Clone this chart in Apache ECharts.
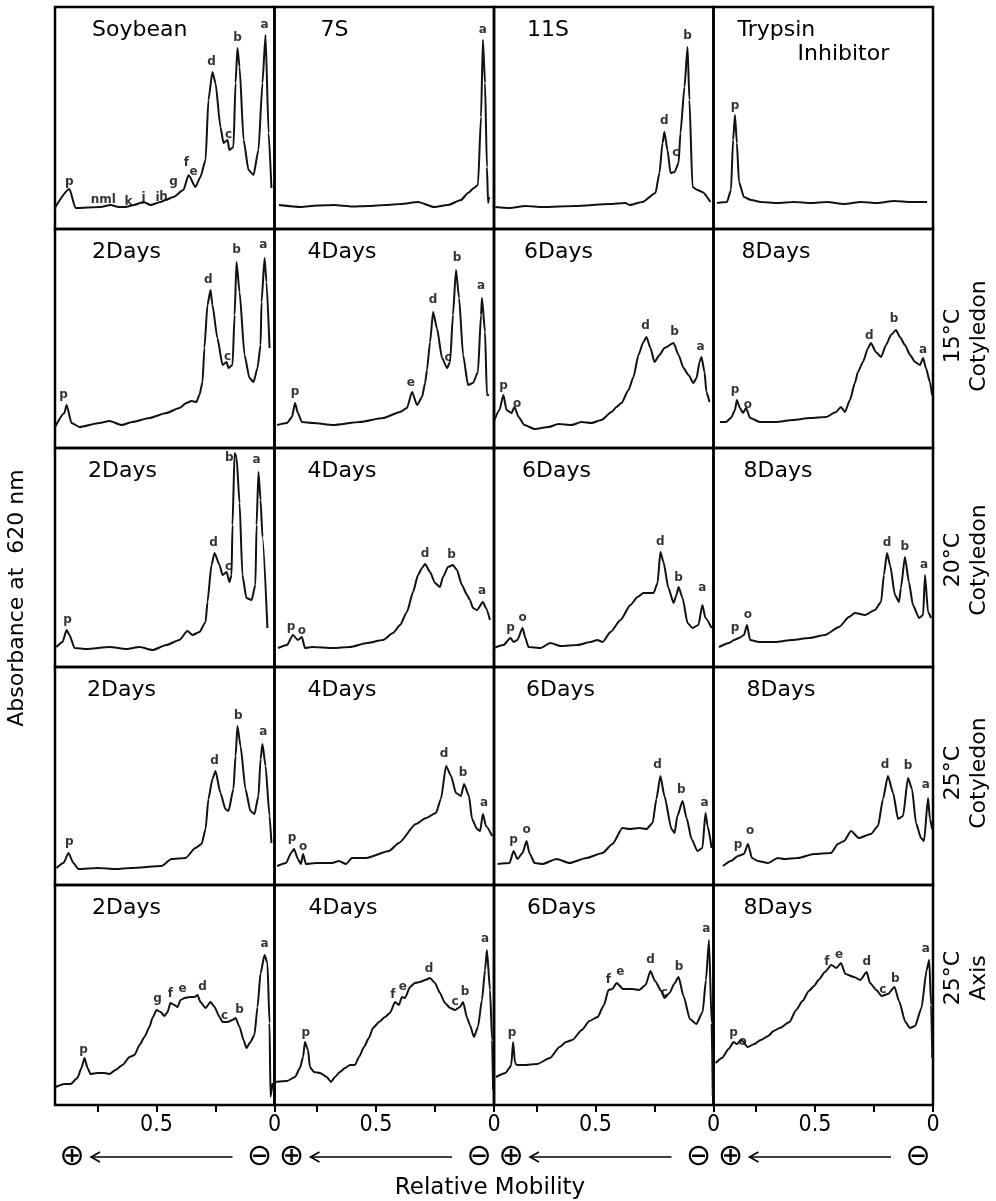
<!DOCTYPE html>
<html>
<head>
<meta charset="utf-8">
<title>Densitometric patterns</title>
<script src="https://cdn.jsdelivr.net/npm/echarts@6/dist/echarts.min.js"></script>
<style>
html, body { margin: 0; background: #fff; }
#chart { width: 996px; height: 1201px; }
</style>
</head>
<body>
<div id="chart"></div>
<script>
// traces: [relative mobility, absorbance (arbitrary units)]
const soybean = [[0.936,0.19],[0.869,0.40],[0.843,0.21],[0.737,0.22],[0.695,0.24],[0.66,0.22],[0.631,0.22],[0.597,0.24],[0.555,0.27],[0.525,0.24],[0.483,0.27],[0.462,0.29],[0.428,0.32],[0.386,0.39],[0.364,0.54],[0.335,0.42],[0.314,0.52],[0.292,0.69],[0.280,1.29],[0.263,1.57],[0.250,1.46],[0.229,1.02],[0.216,0.86],[0.199,0.89],[0.191,0.79],[0.174,0.82],[0.165,1.46],[0.157,1.81],[0.148,1.62],[0.131,0.89],[0.110,0.59],[0.089,0.54],[0.068,0.79],[0.051,1.46],[0.038,1.94],[0.025,0.96],[0.013,0.41]];
const globulin7S = [[0.911,0.24],[0.818,0.22],[0.75,0.235],[0.678,0.24],[0.60,0.225],[0.534,0.23],[0.46,0.24],[0.394,0.25],[0.322,0.27],[0.254,0.22],[0.195,0.24],[0.14,0.29],[0.11,0.36],[0.085,0.41],[0.068,0.44],[0.055,1.12],[0.047,1.89],[0.038,1.46],[0.030,0.62],[0.025,0.26],[0.021,0.32]];
const globulin11S = [[0.924,0.22],[0.864,0.21],[0.797,0.23],[0.725,0.22],[0.585,0.23],[0.441,0.25],[0.373,0.26],[0.356,0.24],[0.301,0.27],[0.246,0.36],[0.229,0.56],[0.216,0.86],[0.208,0.97],[0.195,0.79],[0.182,0.56],[0.165,0.57],[0.148,0.66],[0.140,0.96],[0.123,1.42],[0.110,1.82],[0.102,1.29],[0.089,0.42],[0.068,0.39],[0.047,0.37],[0.013,0.27]];
const trypsinInhibitor = [[0.915,0.26],[0.873,0.27],[0.856,0.39],[0.847,0.89],[0.839,1.14],[0.831,0.86],[0.822,0.47],[0.801,0.32],[0.771,0.29],[0.729,0.27],[0.661,0.26],[0.589,0.27],[0.517,0.26],[0.449,0.27],[0.377,0.25],[0.305,0.27],[0.237,0.26],[0.165,0.28],[0.093,0.27],[0.025,0.27]];

const cot15d2 = [[0.932,0.20],[0.890,0.35],[0.881,0.43],[0.860,0.25],[0.826,0.21],[0.742,0.25],[0.699,0.27],[0.648,0.23],[0.602,0.26],[0.530,0.30],[0.458,0.35],[0.403,0.40],[0.373,0.45],[0.352,0.47],[0.331,0.46],[0.318,0.53],[0.305,0.66],[0.297,1.00],[0.284,1.43],[0.271,1.58],[0.263,1.43],[0.242,1.10],[0.220,0.83],[0.203,0.86],[0.195,0.80],[0.178,0.83],[0.169,1.33],[0.161,1.86],[0.148,1.56],[0.127,0.93],[0.106,0.70],[0.089,0.66],[0.072,0.80],[0.059,1.03],[0.055,1.46],[0.042,1.90],[0.034,1.66],[0.021,1.00]];
const cot15d4 = [[0.919,0.23],[0.877,0.25],[0.856,0.31],[0.843,0.45],[0.831,0.35],[0.814,0.26],[0.767,0.25],[0.682,0.23],[0.568,0.26],[0.470,0.30],[0.398,0.36],[0.369,0.40],[0.347,0.56],[0.326,0.43],[0.305,0.51],[0.292,0.65],[0.284,0.78],[0.271,1.06],[0.258,1.36],[0.242,1.20],[0.220,0.90],[0.199,0.80],[0.186,0.86],[0.174,1.33],[0.161,1.78],[0.148,1.50],[0.131,0.93],[0.110,0.63],[0.089,0.65],[0.068,0.76],[0.055,1.33],[0.051,1.50],[0.038,1.16],[0.030,0.53],[0.021,0.53]];
const cot15d6 = [[0.928,0.28],[0.907,0.38],[0.890,0.53],[0.877,0.38],[0.856,0.35],[0.843,0.41],[0.826,0.31],[0.801,0.23],[0.758,0.19],[0.699,0.21],[0.657,0.24],[0.602,0.23],[0.559,0.26],[0.517,0.25],[0.475,0.28],[0.432,0.36],[0.411,0.41],[0.390,0.45],[0.360,0.58],[0.339,0.71],[0.318,0.93],[0.297,1.06],[0.284,1.11],[0.267,1.00],[0.250,0.86],[0.229,0.93],[0.208,1.00],[0.169,1.05],[0.148,0.93],[0.127,0.80],[0.106,0.73],[0.085,0.65],[0.072,0.70],[0.059,0.86],[0.051,0.91],[0.038,0.76],[0.030,0.56],[0.017,0.46]];
const cot15d8 = [[0.903,0.26],[0.877,0.26],[0.856,0.30],[0.839,0.38],[0.831,0.48],[0.818,0.40],[0.805,0.35],[0.792,0.40],[0.775,0.30],[0.733,0.26],[0.665,0.26],[0.593,0.28],[0.521,0.30],[0.453,0.31],[0.411,0.36],[0.390,0.41],[0.373,0.36],[0.352,0.48],[0.331,0.65],[0.318,0.76],[0.297,0.86],[0.275,1.00],[0.263,1.05],[0.242,0.96],[0.220,0.91],[0.199,1.03],[0.178,1.13],[0.157,1.18],[0.140,1.11],[0.119,1.03],[0.097,0.93],[0.076,0.86],[0.055,0.83],[0.042,0.90],[0.030,0.80],[0.013,0.66],[0.004,0.53]];

const cot20d2 = [[0.924,0.20],[0.898,0.25],[0.881,0.37],[0.869,0.32],[0.847,0.19],[0.797,0.18],[0.699,0.20],[0.627,0.18],[0.572,0.20],[0.517,0.17],[0.458,0.22],[0.403,0.27],[0.369,0.36],[0.347,0.32],[0.318,0.35],[0.292,0.45],[0.284,0.65],[0.267,1.02],[0.254,1.14],[0.233,1.02],[0.220,0.92],[0.203,0.95],[0.191,0.85],[0.182,0.92],[0.178,1.42],[0.169,2.14],[0.161,2.10],[0.148,1.64],[0.136,0.92],[0.119,0.69],[0.097,0.67],[0.081,0.82],[0.076,1.42],[0.068,1.95],[0.059,1.67],[0.051,1.30],[0.030,0.39]];
const cot20d4 = [[0.915,0.19],[0.877,0.22],[0.852,0.32],[0.831,0.27],[0.814,0.30],[0.801,0.19],[0.771,0.20],[0.682,0.19],[0.610,0.20],[0.538,0.24],[0.470,0.27],[0.428,0.34],[0.398,0.42],[0.369,0.55],[0.343,0.75],[0.322,0.92],[0.305,0.99],[0.292,1.03],[0.271,0.95],[0.250,0.84],[0.229,0.80],[0.216,0.90],[0.195,1.00],[0.174,1.02],[0.157,0.97],[0.136,0.82],[0.114,0.72],[0.102,0.67],[0.089,0.59],[0.072,0.57],[0.047,0.65],[0.034,0.59],[0.017,0.47]];
const cot20d6 = [[0.932,0.19],[0.890,0.22],[0.860,0.29],[0.847,0.25],[0.831,0.27],[0.809,0.39],[0.797,0.29],[0.784,0.20],[0.733,0.19],[0.691,0.24],[0.648,0.21],[0.576,0.22],[0.521,0.25],[0.492,0.27],[0.470,0.25],[0.436,0.35],[0.394,0.47],[0.352,0.62],[0.322,0.70],[0.297,0.74],[0.254,0.74],[0.237,0.84],[0.225,1.15],[0.212,1.05],[0.191,0.79],[0.169,0.64],[0.157,0.72],[0.148,0.80],[0.131,0.69],[0.110,0.44],[0.089,0.39],[0.064,0.42],[0.047,0.62],[0.034,0.49],[0.008,0.39]];
const cot20d8 = [[0.907,0.20],[0.864,0.24],[0.843,0.27],[0.822,0.29],[0.801,0.32],[0.788,0.42],[0.775,0.27],[0.737,0.25],[0.669,0.25],[0.597,0.27],[0.525,0.29],[0.458,0.32],[0.398,0.40],[0.356,0.50],[0.331,0.54],[0.288,0.52],[0.246,0.57],[0.220,0.65],[0.208,0.92],[0.195,1.14],[0.182,1.02],[0.161,0.72],[0.144,0.65],[0.136,0.79],[0.119,1.10],[0.102,0.85],[0.085,0.62],[0.059,0.49],[0.042,0.52],[0.034,0.92],[0.021,0.55],[0.008,0.49]];

const cot25d2 = [[0.924,0.17],[0.894,0.22],[0.873,0.32],[0.852,0.22],[0.831,0.16],[0.746,0.17],[0.674,0.16],[0.606,0.17],[0.479,0.19],[0.436,0.26],[0.377,0.27],[0.335,0.37],[0.309,0.41],[0.292,0.56],[0.280,0.86],[0.263,1.06],[0.250,1.14],[0.229,0.92],[0.208,0.76],[0.195,0.74],[0.174,0.96],[0.165,1.29],[0.157,1.59],[0.144,1.39],[0.123,0.96],[0.102,0.74],[0.085,0.71],[0.068,0.89],[0.059,1.26],[0.051,1.41],[0.038,1.19],[0.021,0.69],[0.013,0.42]];
const cot25d4 = [[0.919,0.19],[0.881,0.22],[0.860,0.32],[0.847,0.36],[0.831,0.26],[0.818,0.21],[0.809,0.31],[0.797,0.21],[0.754,0.22],[0.686,0.22],[0.657,0.24],[0.627,0.21],[0.602,0.27],[0.542,0.27],[0.445,0.34],[0.403,0.42],[0.331,0.61],[0.288,0.67],[0.246,0.72],[0.225,0.86],[0.203,1.19],[0.182,1.09],[0.161,0.92],[0.140,0.89],[0.127,1.01],[0.106,0.89],[0.093,0.66],[0.072,0.56],[0.059,0.54],[0.047,0.71],[0.034,0.59],[0.008,0.49]];
const cot25d6 = [[0.915,0.21],[0.864,0.22],[0.847,0.34],[0.831,0.26],[0.809,0.32],[0.792,0.44],[0.780,0.32],[0.758,0.22],[0.725,0.21],[0.665,0.26],[0.610,0.22],[0.538,0.27],[0.470,0.32],[0.428,0.41],[0.386,0.57],[0.356,0.56],[0.314,0.57],[0.284,0.56],[0.258,0.62],[0.242,0.86],[0.225,1.09],[0.208,0.89],[0.178,0.56],[0.165,0.52],[0.153,0.69],[0.131,0.84],[0.114,0.67],[0.093,0.46],[0.068,0.34],[0.047,0.37],[0.034,0.72],[0.025,0.59],[0.008,0.37]];
const cot25d8 = [[0.890,0.19],[0.856,0.24],[0.826,0.29],[0.801,0.31],[0.784,0.41],[0.767,0.27],[0.742,0.24],[0.699,0.22],[0.657,0.27],[0.631,0.26],[0.572,0.27],[0.504,0.31],[0.432,0.32],[0.403,0.41],[0.377,0.44],[0.347,0.54],[0.314,0.47],[0.263,0.51],[0.233,0.59],[0.212,0.86],[0.191,1.09],[0.169,0.92],[0.148,0.66],[0.127,0.69],[0.106,1.07],[0.089,0.96],[0.072,0.62],[0.051,0.47],[0.038,0.44],[0.021,0.87],[0.013,0.66],[0.004,0.56]];

const axis25d2 = [[0.928,0.18],[0.890,0.21],[0.864,0.21],[0.835,0.27],[0.818,0.37],[0.805,0.47],[0.792,0.37],[0.780,0.31],[0.750,0.32],[0.720,0.32],[0.699,0.31],[0.674,0.35],[0.644,0.40],[0.614,0.48],[0.593,0.50],[0.572,0.60],[0.551,0.68],[0.530,0.78],[0.517,0.87],[0.500,0.95],[0.483,0.93],[0.466,0.89],[0.453,0.93],[0.441,1.02],[0.424,1.00],[0.411,0.98],[0.398,1.05],[0.381,1.07],[0.360,1.08],[0.339,1.08],[0.326,1.10],[0.314,1.03],[0.292,0.97],[0.271,1.03],[0.254,0.98],[0.233,0.88],[0.220,0.83],[0.199,0.83],[0.178,0.85],[0.165,0.87],[0.148,0.78],[0.131,0.65],[0.119,0.57],[0.102,0.63],[0.085,0.70],[0.072,0.98],[0.059,1.32],[0.042,1.50],[0.030,1.42],[0.021,0.82],[0.017,0.08],[0.008,0.22]];
const axis25d4 = [[0.928,0.23],[0.877,0.24],[0.843,0.28],[0.822,0.37],[0.809,0.48],[0.801,0.63],[0.788,0.55],[0.780,0.38],[0.763,0.33],[0.737,0.32],[0.708,0.28],[0.691,0.23],[0.674,0.28],[0.653,0.33],[0.631,0.37],[0.610,0.40],[0.589,0.40],[0.572,0.48],[0.551,0.58],[0.530,0.67],[0.513,0.77],[0.487,0.83],[0.462,0.88],[0.441,0.92],[0.419,1.03],[0.403,1.00],[0.390,1.08],[0.377,1.07],[0.356,1.18],[0.335,1.22],[0.314,1.23],[0.292,1.25],[0.271,1.27],[0.250,1.22],[0.229,1.12],[0.208,1.02],[0.186,0.97],[0.165,0.95],[0.144,0.98],[0.131,1.03],[0.114,0.87],[0.102,0.80],[0.085,0.68],[0.068,0.78],[0.051,1.05],[0.038,1.35],[0.030,1.55],[0.017,1.15],[0.008,0.65],[0.004,0.15]];
const axis25d6 = [[0.922,0.28],[0.881,0.32],[0.865,0.37],[0.857,0.40],[0.849,0.63],[0.841,0.42],[0.833,0.40],[0.801,0.40],[0.747,0.41],[0.693,0.47],[0.652,0.58],[0.625,0.63],[0.598,0.65],[0.558,0.75],[0.526,0.84],[0.491,0.88],[0.464,1.00],[0.445,1.15],[0.429,1.16],[0.410,1.22],[0.383,1.16],[0.342,1.16],[0.315,1.15],[0.288,1.20],[0.267,1.34],[0.248,1.24],[0.221,1.14],[0.208,1.07],[0.186,1.12],[0.167,1.21],[0.148,1.28],[0.127,1.09],[0.100,0.86],[0.073,0.81],[0.046,0.93],[0.032,1.25],[0.019,1.65],[0.008,0.82],[0.003,0.09]];
const axis25d8 = [[0.921,0.42],[0.894,0.47],[0.866,0.56],[0.845,0.63],[0.831,0.61],[0.812,0.65],[0.785,0.58],[0.757,0.61],[0.730,0.65],[0.698,0.69],[0.676,0.74],[0.649,0.77],[0.608,0.83],[0.580,0.95],[0.553,1.04],[0.526,1.14],[0.504,1.19],[0.485,1.25],[0.458,1.33],[0.431,1.40],[0.409,1.37],[0.390,1.42],[0.371,1.31],[0.335,1.28],[0.308,1.25],[0.281,1.33],[0.267,1.22],[0.240,1.15],[0.218,1.09],[0.191,1.11],[0.163,1.18],[0.144,1.04],[0.117,0.83],[0.098,0.77],[0.076,0.79],[0.049,0.97],[0.027,1.35],[0.016,1.45],[0.008,1.00],[0.003,0.47]];

// band letters: [mobility, absorbance, band]
const soybeanPeaks = [[0.869,0.47,'p'],[0.725,0.29,'nml'],[0.619,0.27,'k'],[0.555,0.31,'j'],[0.496,0.31,'i'],[0.470,0.32,'h'],[0.428,0.47,'g'],[0.373,0.66,'f'],[0.343,0.57,'e'],[0.267,1.67,'d'],[0.195,0.94,'c'],[0.157,1.91,'b'],[0.042,2.04,'a']];
const globulin7SPeaks = [[0.047,1.99,'a']];
const globulin11SPeaks = [[0.208,1.08,'d'],[0.160,0.76,'c'],[0.110,1.93,'b']];
const trypsinPeaks = [[0.839,1.23,'p']];
const cot15d2Peaks = [[0.894,0.53,'p'],[0.280,1.68,'d'],[0.199,0.91,'c'],[0.161,1.98,'b'],[0.047,2.03,'a']];
const cot15d4Peaks = [[0.843,0.56,'p'],[0.352,0.65,'e'],[0.258,1.48,'d'],[0.195,0.90,'c'],[0.157,1.90,'b'],[0.055,1.62,'a']];
const cot15d6Peaks = [[0.890,0.62,'p'],[0.832,0.44,'o'],[0.288,1.22,'d'],[0.165,1.16,'b'],[0.055,1.01,'a']];
const cot15d8Peaks = [[0.839,0.58,'p'],[0.784,0.43,'o'],[0.270,1.12,'d'],[0.165,1.29,'b'],[0.042,0.98,'a']];
const cot20d2Peaks = [[0.877,0.47,'p'],[0.258,1.24,'d'],[0.195,1.00,'c'],[0.191,2.09,'b'],[0.076,2.07,'a']];
const cot20d4Peaks = [[0.860,0.40,'p'],[0.814,0.36,'o'],[0.292,1.13,'d'],[0.180,1.12,'b'],[0.051,0.76,'a']];
const cot20d6Peaks = [[0.860,0.39,'p'],[0.809,0.49,'o'],[0.225,1.25,'d'],[0.148,0.89,'b'],[0.047,0.79,'a']];
const cot20d8Peaks = [[0.839,0.39,'p'],[0.784,0.52,'o'],[0.195,1.24,'d'],[0.119,1.20,'b'],[0.038,1.02,'a']];
const cot25d2Peaks = [[0.869,0.43,'p'],[0.254,1.24,'d'],[0.153,1.69,'b'],[0.047,1.53,'a']];
const cot25d4Peaks = [[0.856,0.47,'p'],[0.809,0.38,'o'],[0.212,1.31,'d'],[0.131,1.12,'b'],[0.042,0.82,'a']];
const cot25d6Peaks = [[0.847,0.45,'p'],[0.792,0.55,'o'],[0.237,1.20,'d'],[0.136,0.95,'b'],[0.038,0.82,'a']];
const cot25d8Peaks = [[0.826,0.40,'p'],[0.775,0.54,'o'],[0.203,1.20,'d'],[0.106,1.19,'b'],[0.030,1.00,'a']];
const axis25d2Peaks = [[0.809,0.55,'p'],[0.496,1.06,'g'],[0.441,1.11,'f'],[0.390,1.16,'e'],[0.305,1.18,'d'],[0.212,0.89,'c'],[0.148,0.95,'b'],[0.042,1.61,'a']];
const axis25d4Peaks = [[0.797,0.72,'p'],[0.428,1.10,'f'],[0.386,1.18,'e'],[0.275,1.36,'d'],[0.165,1.03,'c'],[0.123,1.13,'b'],[0.038,1.66,'a']];
const axis25d6Peaks = [[0.854,0.72,'p'],[0.445,1.25,'f'],[0.395,1.33,'e'],[0.267,1.45,'d'],[0.208,1.12,'c'],[0.146,1.38,'b'],[0.030,1.76,'a']];
const axis25d8Peaks = [[0.845,0.72,'p'],[0.807,0.63,'o'],[0.45,1.43,'f'],[0.398,1.50,'e'],[0.281,1.43,'d'],[0.213,1.15,'c'],[0.160,1.26,'b'],[0.030,1.56,'a']];

const panelTraces = [
    [soybean, globulin7S, globulin11S, trypsinInhibitor],
    [cot15d2, cot15d4, cot15d6, cot15d8],
    [cot20d2, cot20d4, cot20d6, cot20d8],
    [cot25d2, cot25d4, cot25d6, cot25d8],
    [axis25d2, axis25d4, axis25d6, axis25d8]
];
const panelPeaks = [
    [soybeanPeaks, globulin7SPeaks, globulin11SPeaks, trypsinPeaks],
    [cot15d2Peaks, cot15d4Peaks, cot15d6Peaks, cot15d8Peaks],
    [cot20d2Peaks, cot20d4Peaks, cot20d6Peaks, cot20d8Peaks],
    [cot25d2Peaks, cot25d4Peaks, cot25d6Peaks, cot25d8Peaks],
    [axis25d2Peaks, axis25d4Peaks, axis25d6Peaks, axis25d8Peaks]
];
const panelTitles = [
    ['Soybean', '7S', '11S', 'Trypsin\nInhibitor'],
    ['2Days', '4Days', '6Days', '8Days'],
    ['2Days', '4Days', '6Days', '8Days'],
    ['2Days', '4Days', '6Days', '8Days'],
    ['2Days', '4Days', '6Days', '8Days']
];
const rowNames = [null, '15°C\nCotyledon', '20°C\nCotyledon', '25°C\nCotyledon', '25°C\nAxis'];
const tickValues = [0, 0.25, 0.5, 0.75];
const tickLabels = [0, 0.5];

// layout
const colLeft = [55, 274.5, 494, 713.5];
const colWidth = 219.5;
const rowTop = [7, 229, 448, 667, 885, 1105];
const xMax = 0.93;
const FONT = '"DejaVu Sans", sans-serif';
const titleDx = [[37, 46, 33, 24], [37, 33, 30, 28], [33, 33, 28, 30], [32, 33, 32, 33], [37, 34, 33, 30]];
const rowLabelY = [0, 336, 560, 773, 978];

let grids = [], xAxes = [], yAxes = [], series = [], graphics = [];

panelTraces.forEach((row, r) => {
    let h = rowTop[r + 1] - rowTop[r];
    let last = r === panelTraces.length - 1;
    row.forEach((trace, c) => {
        let idx = grids.length;
        grids.push({
            left: colLeft[c], top: rowTop[r], width: colWidth, height: h,
            show: true, borderColor: '#000', borderWidth: 2.5,
            containLabel: false, outerBoundsMode: 'none'
        });
        xAxes.push({
            gridIndex: idx, type: 'value', inverse: true, min: 0, max: xMax, interval: 0.25,
            splitLine: {show: false},
            axisLine: {show: false},
            axisTick: {show: last, customValues: tickValues, length: 7, lineStyle: {color: '#000', width: 2}},
            axisLabel: {
                show: last, customValues: tickLabels, margin: 9, fontSize: 23, color: '#000',
                fontFamily: '"DejaVu Sans Condensed", "DejaVu Sans", sans-serif',
                formatter: v => Math.abs(v) < 1e-6 ? '0' : (Math.abs(v - 0.5) < 1e-6 ? '0.5' : '')
            }
        });
        yAxes.push({gridIndex: idx, type: 'value', min: 0, max: h / 100, show: false});
        series.push({
            type: 'line', xAxisIndex: idx, yAxisIndex: idx, data: trace,
            showSymbol: false, symbol: 'none', smooth: 0.2, smoothMonotone: 'x',
            lineStyle: {color: '#111', width: 2}, silent: true
        });
        series.push({
            type: 'scatter', xAxisIndex: idx, yAxisIndex: idx,
            data: panelPeaks[r][c].map(p => ({value: [p[0], p[1]], name: p[2]})),
            symbolSize: 1, itemStyle: {color: 'rgba(0,0,0,0)'}, silent: true,
            label: {show: true, position: 'inside', formatter: p => p.name,
                fontSize: 12, fontWeight: 'bold', color: '#000', fontFamily: FONT}
        });

        // panel title
        panelTitles[r][c].split('\n').forEach((t, k) => {
            graphics.push({
                type: 'text', silent: true,
                x: colLeft[c] + titleDx[r][c] + k * 60, y: rowTop[r] + 12 + k * 24,
                style: {text: t, font: '22px ' + FONT, fill: '#000', align: 'left', verticalAlign: 'top'}
            });
        });
    });
    if (rowNames[r]) {
        graphics.push({
            type: 'text', silent: true, x: 966, y: rowLabelY[r], rotation: Math.PI / 2,
            style: {text: rowNames[r], font: '22px ' + FONT, fill: '#000', align: 'center', verticalAlign: 'middle', lineHeight: 26}
        });
    }
});

// y title
graphics.push({
    type: 'text', silent: true, x: 17, y: 598, rotation: Math.PI / 2,
    style: {text: 'Absorbance at  620 nm', font: '22px ' + FONT, fill: '#000', align: 'center', verticalAlign: 'middle'}
});

// electrode direction under each column
const arrowY = 1157;
colLeft.forEach(L => {
    let R = L + colWidth;
    let x1 = L + 36, x2 = R - 42;
    graphics.push({type: 'text', silent: true, x: L + 17, y: arrowY,
        style: {text: '⊕', font: '30px ' + FONT, fill: '#000', align: 'center', verticalAlign: 'middle'}});
    graphics.push({type: 'text', silent: true, x: R - 15, y: arrowY,
        style: {text: '⊖', font: '30px ' + FONT, fill: '#000', align: 'center', verticalAlign: 'middle'}});
    graphics.push({type: 'line', silent: true, shape: {x1: x1, y1: arrowY, x2: x2, y2: arrowY},
        style: {stroke: '#000', lineWidth: 1.6}});
    graphics.push({type: 'polyline', silent: true, shape: {points: [[x1 + 9, arrowY - 5], [x1, arrowY], [x1 + 9, arrowY + 5]]},
        style: {stroke: '#000', lineWidth: 1.6, fill: null}});
});

graphics.push({
    type: 'text', silent: true, x: 490, y: 1188,
    style: {text: 'Relative Mobility', font: '23px ' + FONT, fill: '#000', align: 'center', verticalAlign: 'middle'}
});

let chart = echarts.init(document.getElementById('chart'), null, {renderer: 'canvas'});
chart.setOption({
    backgroundColor: '#fff',
    animation: false,
    grid: grids,
    xAxis: xAxes,
    yAxis: yAxes,
    series: series,
    graphic: graphics
});
</script>
</body>
</html>
